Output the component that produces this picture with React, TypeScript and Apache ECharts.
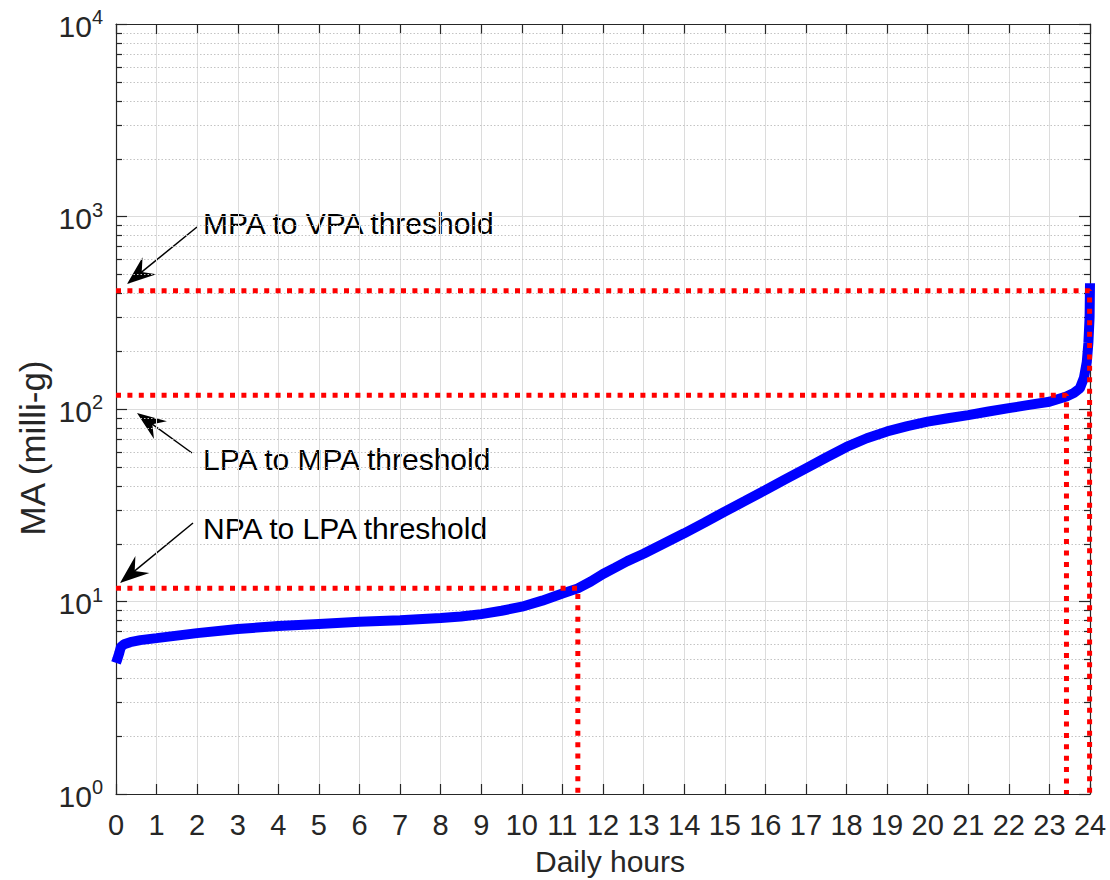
import React, { useEffect, useRef } from "react";
import * as echarts from "echarts";

const hours = [0, 0.03, 0.08, 0.12, 0.2, 0.35, 0.6, 1, 1.5, 2, 3, 4, 5, 6, 7, 8, 8.5, 9, 9.5, 10, 10.5, 11, 11.38, 11.7, 12, 12.3, 12.6, 13, 13.5, 14, 14.5, 15, 15.5, 16, 16.5, 17, 17.5, 18, 18.5, 19, 19.5, 20, 20.5, 21, 21.5, 22, 22.5, 23, 23.42, 23.6, 23.75, 23.85, 23.92, 23.96, 23.99, 24];
const maValues = [4.8, 5.0, 5.4, 5.8, 6.0, 6.15, 6.3, 6.45, 6.65, 6.85, 7.2, 7.45, 7.65, 7.85, 8.0, 8.2, 8.35, 8.6, 8.95, 9.4, 10.1, 11.0, 11.7, 12.7, 13.9, 15.0, 16.2, 17.7, 20.0, 22.6, 25.7, 29.3, 33.3, 37.9, 43.2, 49.2, 56.0, 63.5, 70.5, 76.5, 81.5, 86, 89.5, 93, 97, 101, 105, 109, 116, 121, 128, 145, 175, 220, 300, 450];

const npaLpa = { value: 11.7, hour: 11.38, label: "NPA to LPA threshold" };
const lpaMpa = { value: 118, hour: 23.42, label: "LPA to MPA threshold" };
const mpaVpa = { value: 412, hour: 23.99, label: "MPA to VPA threshold" };

const minorValues = [2, 3, 4, 5, 6, 7, 8, 9, 20, 30, 40, 50, 60, 70, 80, 90, 200, 300, 400, 500, 600, 700, 800, 900, 2000, 3000, 4000, 5000, 6000, 7000, 8000, 9000];

const FONT = "'Liberation Sans', Arial, Helvetica, sans-serif";
const AX = "#262626";

function thresholdSeries(t: { value: number; hour: number }) {
  return {
    type: "line",
    data: [[0, t.value], [t.hour, t.value], [t.hour, 1]],
    showSymbol: false,
    clip: false,
    z: 5,
    lineStyle: { color: "#ff0000", width: 5, type: [5, 6.4] },
  };
}

function arrow(x0: number, y0: number, x1: number, y1: number) {
  const dx = x1 - x0, dy = y1 - y0;
  const len = Math.sqrt(dx * dx + dy * dy);
  const ux = dx / len, uy = dy / len;
  const nx = -uy, ny = ux;
  const L = 29, W = 11, ind = 10;
  const bx = x1 - ux * L, by = y1 - uy * L;
  return [
    { type: "line", shape: { x1: x0, y1: y0, x2: x1 - ux * 12, y2: y1 - uy * 12 }, style: { stroke: "#000", lineWidth: 1.5 } },
    {
      type: "polygon",
      shape: {
        points: [
          [x1, y1],
          [bx + nx * W, by + ny * W],
          [x1 - ux * (L - ind), y1 - uy * (L - ind)],
          [bx - nx * W, by - ny * W],
        ],
      },
      style: { fill: "#000" },
    },
  ];
}

export default function App() {
  const ref = useRef<HTMLDivElement>(null);
  useEffect(() => {
    if (!ref.current) return;
    const chart = echarts.init(ref.current, null, { renderer: "svg" });
    const sup = (v: number) => {
      const e = Math.round(Math.log10(v));
      return "{b|10}{s|" + e + "}";
    };
    const option: any = {
      animation: false,
      backgroundColor: "#fff",
      textStyle: { fontFamily: FONT },
      grid: { left: 116, right: 20, top: 24, bottom: 86, containLabel: false, outerBoundsMode: "none" },
      xAxis: [
        {
          type: "value", min: 0, max: 24, interval: 1, position: "bottom",
          axisLine: { show: true, onZero: false, lineStyle: { color: AX, width: 1.2 } },
          axisTick: { show: true, inside: true, length: 10, lineStyle: { color: AX, width: 1.2 } },
          axisLabel: { fontSize: 29, color: AX, margin: 16, fontFamily: FONT },
          splitLine: { show: true, lineStyle: { color: "#dcdcdc", width: 1 } },
        },
        {
          type: "value", min: 0, max: 24, interval: 1, position: "top",
          axisLine: { show: true, onZero: false, lineStyle: { color: AX, width: 1.2 } },
          axisTick: { show: true, inside: true, length: 10, lineStyle: { color: AX, width: 1.2 } },
          axisLabel: { show: false },
          splitLine: { show: false },
        },
      ],
      yAxis: [
        {
          type: "log", logBase: 10, min: 1, max: 10000, position: "left",
          axisLine: { show: true, onZero: false, lineStyle: { color: AX, width: 1.2 } },
          axisTick: { show: true, inside: true, length: 11, lineStyle: { color: AX, width: 1.2 } },
          axisLabel: {
            color: AX, margin: 13, fontFamily: FONT,
            formatter: (v: number) => sup(v),
            rich: {
              b: { fontSize: 30, color: AX, fontFamily: FONT, lineHeight: 34, verticalAlign: "bottom" },
              s: { fontSize: 20, color: AX, fontFamily: FONT, lineHeight: 20, verticalAlign: "top" },
            },
          },
          splitLine: { show: true, lineStyle: { color: "#dcdcdc", width: 1 } },
        },
        {
          type: "log", logBase: 10, min: 1, max: 10000, position: "right",
          axisLine: { show: true, onZero: false, lineStyle: { color: AX, width: 1.2 } },
          axisTick: { show: true, inside: true, length: 11, lineStyle: { color: AX, width: 1.2 } },
          axisLabel: { show: false },
          splitLine: { show: false },
        },
      ],
      series: [
        {
          type: "custom",
          xAxisIndex: 0, yAxisIndex: 0, z: 1, silent: true,
          data: minorValues.map((v) => [0, v]),
          renderItem: (params: any, api: any) => {
            const v = api.value(1);
            const p0 = api.coord([0, v]);
            const p1 = api.coord([24, v]);
            const y = Math.round(p0[1]) + 0.5;
            return {
              type: "group",
              children: [
                { type: "line", shape: { x1: p0[0], y1: y, x2: p1[0], y2: y }, style: { stroke: "#c4c4c4", lineWidth: 1, lineDash: [1.5, 2] } },
                { type: "line", shape: { x1: p0[0], y1: y, x2: p0[0] + 6, y2: y }, style: { stroke: AX, lineWidth: 1.2 } },
                { type: "line", shape: { x1: p1[0] - 6, y1: y, x2: p1[0], y2: y }, style: { stroke: AX, lineWidth: 1.2 } },
              ],
            };
          },
        },
        {
          type: "line",
          data: hours.map((h, i) => [h, maValues[i]]),
          showSymbol: false,
          clip: false,
          z: 3,
          lineStyle: { color: "#0000ff", width: 10 },
        },
        thresholdSeries(npaLpa),
        thresholdSeries(lpaMpa),
        thresholdSeries(mpaVpa),
      ],
      graphic: [
        {
          type: "text", x: 32, y: 448, rotation: Math.PI / 2,
          style: { text: "MA (milli-g)", fontSize: 35, fontFamily: FONT, fill: AX, textAlign: "center", textVerticalAlign: "middle" },
        },
        {
          type: "text", x: 610, y: 861,
          style: { text: "Daily hours", fontSize: 30, fontFamily: FONT, fill: AX, textAlign: "center", textVerticalAlign: "middle" },
        },
        { type: "text", x: 203, y: 223, style: { text: mpaVpa.label, fontSize: 30, fontFamily: FONT, fill: "#000", textVerticalAlign: "middle" } },
        { type: "text", x: 203, y: 459, style: { text: lpaMpa.label, fontSize: 30, fontFamily: FONT, fill: "#000", textVerticalAlign: "middle" } },
        { type: "text", x: 203, y: 528, style: { text: npaLpa.label, fontSize: 30, fontFamily: FONT, fill: "#000", textVerticalAlign: "middle" } },
        ...arrow(197, 227, 127, 284),
        ...arrow(192, 453, 137, 413),
        ...arrow(193, 523, 120, 583),
      ],
    };
    chart.setOption(option);
    return () => chart.dispose();
  }, []);
  return <div ref={ref} style={{ position: "absolute", left: 0, top: 0, width: 1110, height: 880 }} />;
}
